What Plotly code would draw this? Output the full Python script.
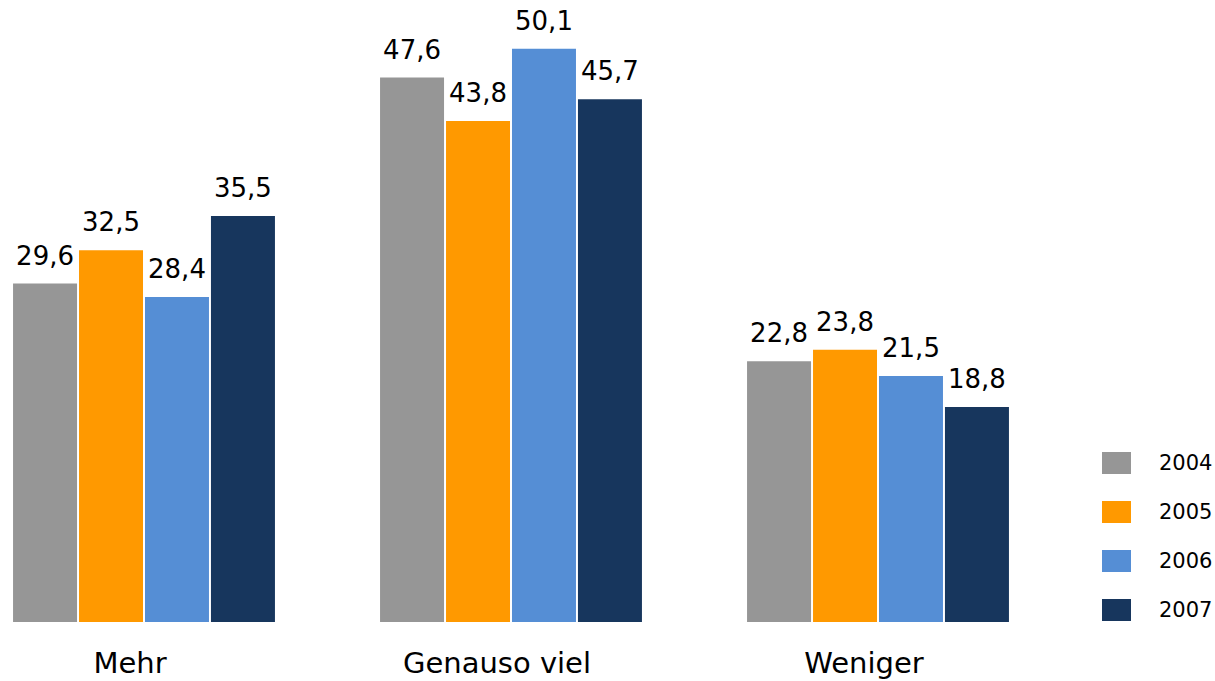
import plotly.graph_objects as go

categories = ["Mehr", "Genauso viel", "Weniger"]
years = ["2004", "2005", "2006", "2007"]
values_2004 = [29.6, 47.6, 22.8]
values_2005 = [32.5, 43.8, 23.8]
values_2006 = [28.4, 50.1, 21.5]
values_2007 = [35.5, 45.7, 18.8]
colors = ["#969696", "#FF9900", "#558ED5", "#17365D"]

series = [values_2004, values_2005, values_2006, values_2007]

W, H = 1215, 681
ML, MR, MT, MB = 0, 0, 0, 59
plot_w = W - ML - MR
plot_h = H - MT - MB

FONT = "DejaVu Sans"
BARGAP = 0.281

fig = go.Figure()
for name, vals, col in zip(years, series, colors):
    fig.add_trace(go.Bar(
        x=categories, y=vals, name=name,
        marker=dict(color=col, line=dict(width=0)),
        showlegend=False, hoverinfo="skip",
        offsetgroup=name,
    ))
# value labels, grouped like the bars
for name, vals in zip(years, series):
    fig.add_trace(go.Scatter(
        x=categories, y=vals, mode="markers+text",
        text=[f"{v:.1f}".replace(".", ",") for v in vals],
        textposition="top center",
        textfont=dict(family=FONT, size=26, color="black"),
        marker=dict(size=18, opacity=0),
        cliponaxis=False, showlegend=False, hoverinfo="skip",
        offsetgroup=name,
    ))

slot = 367.0
center0 = 144.0
r0 = -center0 / slot
r1 = r0 + plot_w / slot

# manual legend (large square keys)
key_x0, key_x1, txt_x = 1102, 1131, 1157
key_centers = [463, 512, 561, 610]
shapes, annotations = [], []
for name, col, cy in zip(years, colors, key_centers):
    y0 = (plot_h - (cy + 11 - MT)) / plot_h
    y1 = (plot_h - (cy - 11 - MT)) / plot_h
    shapes.append(dict(type="rect", xref="paper", yref="paper",
                       x0=(key_x0 - ML) / plot_w, x1=(key_x1 - ML) / plot_w,
                       y0=y0, y1=y1, fillcolor=col, line=dict(width=0)))
    annotations.append(dict(xref="paper", yref="paper",
                            x=(txt_x - ML) / plot_w, y=(plot_h - (cy - MT)) / plot_h,
                            text=name, showarrow=False, xanchor="left", yanchor="middle",
                            font=dict(family=FONT, size=21, color="black")))

fig.update_layout(
    width=W, height=H,
    margin=dict(l=ML, r=MR, t=MT, b=MB, autoexpand=False),
    paper_bgcolor="white", plot_bgcolor="white",
    barmode="group", bargap=BARGAP, bargroupgap=0.03,
    scattermode="group", scattergap=BARGAP,
    font=dict(family=FONT, color="black"),
    xaxis=dict(range=[r0, r1], showgrid=False, showline=False, zeroline=False,
               automargin=False,
               ticks="", tickfont=dict(family=FONT, size=29, color="black"),
               ticklabelstandoff=21, ticklabelshift=-14),
    yaxis=dict(range=[0, plot_h / 11.44], visible=False, showgrid=False,
               zeroline=False, automargin=False),
    shapes=shapes, annotations=annotations,
    showlegend=False,
)

fig.write_html("out.html", config={"displayModeBar": False},
               post_script="document.body.style.margin='0';document.body.style.overflow='hidden';")
